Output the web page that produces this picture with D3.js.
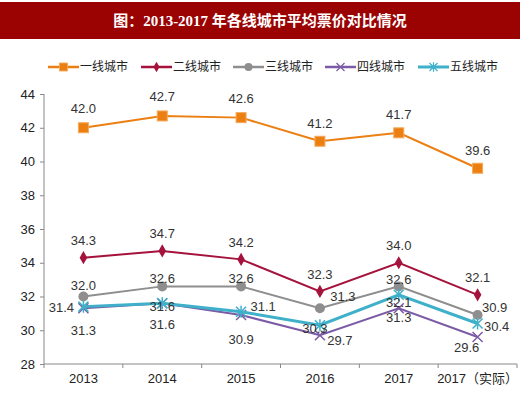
<!DOCTYPE html>
<html lang="zh">
<head>
<meta charset="utf-8">
<title>各线城市平均票价</title>
<script src="https://cdn.jsdelivr.net/npm/d3@7"></script>
<style>
  body { margin: 0; background: #fff; }
  text { font-family: "Liberation Sans", Arial, "Noto Sans CJK SC", sans-serif; }
</style>
</head>
<body>
<script>
// data
var years = ["2013", "2014", "2015", "2016", "2017", "2017（实际）"];
var seriesNames = ["一线城市", "二线城市", "三线城市", "四线城市", "五线城市"];
var tier1 = [42.0, 42.7, 42.6, 41.2, 41.7, 39.6];
var tier2 = [34.3, 34.7, 34.2, 32.3, 34.0, 32.1];
var tier3 = [32.0, 32.6, 32.6, 31.3, 32.6, 30.9];
var tier4 = [31.3, 31.6, 30.9, 29.7, 31.3, 29.6];
var tier5 = [31.4, 31.6, 31.1, 30.3, 32.1, 30.4];
var yTicks = [28, 30, 32, 34, 36, 38, 40, 42, 44];

var colors = ["#EC7F12", "#A5123B", "#8E8E8E", "#7B5BA6", "#3FB0CA"];
var markers = ["square", "diamond", "circle", "cross", "star"];

// label offsets from each point [dx, dy] (centre of text)
var labelOff = [
  [[0,-19],[0,-19],[0,-19],[0,-18],[0,-18],[0,-18]],
  [[0,-17],[0,-17],[0,-17],[0,-17],[0,-17],[0,-17]],
  [[0,-11],[0,-8],[0,-8],[23,-12],[0,-7],[17,-8]],
  [[0,22],[0,21],[0,24],[20,5],[0,9],[-11,10]],
  [[-22,1],[0,3],[22,-5],[-5,3],[0,8],[19,3]]
];

var w = 520, h = 397;
var svg = d3.select("body").append("svg").attr("width", w).attr("height", h);

// title banner
svg.append("rect").attr("x", 0).attr("y", 2).attr("width", w).attr("height", 37).attr("fill", "#9B0303");
svg.append("text").attr("x", w / 2).attr("y", 26).attr("text-anchor", "middle")
  .attr("fill", "#fff").attr("font-size", 15).attr("font-weight", "bold")
  .style("font-family", "'Liberation Serif', 'Noto Sans CJK SC', serif")
  .text("图：2013-2017 年各线城市平均票价对比情况");

var x = d3.scaleBand().domain(years).range([44, 517]);
var y = d3.scaleLinear().domain([28, 44]).range([364, 94]);

// axes
var xAxis = d3.axisBottom(x).tickSize(0).tickPadding(10);
var gx = svg.append("g").attr("transform", "translate(0,364)").call(xAxis);
gx.select(".domain").attr("stroke", "#888").attr("d", "M44,0H517");
gx.selectAll("text").attr("font-size", 13).attr("fill", "#222")
  .style("font-family", "'Liberation Sans', Arial, 'Noto Sans CJK SC', sans-serif");
var bounds = years.map(function(d) { return x(d); }).concat([x.range()[1]]);
gx.selectAll(".btick").data(bounds).enter().append("line")
  .attr("x1", function(d) { return d; }).attr("x2", function(d) { return d; })
  .attr("y1", 0).attr("y2", 4).attr("stroke", "#888");

var yAxis = d3.axisLeft(y).tickValues(yTicks).tickSize(4).tickPadding(5);
var gy = svg.append("g").attr("transform", "translate(44,0)").call(yAxis);
gy.select(".domain").attr("stroke", "#888").attr("d", "M0,364V94");
gy.selectAll("line").attr("stroke", "#888");
gy.selectAll("text").attr("font-size", 13).attr("fill", "#222")
  .style("font-family", "'Liberation Sans', Arial, sans-serif");

var allSeries = [tier1, tier2, tier3, tier4, tier5];
var cx = function(i) { return x(years[i]) + x.bandwidth() / 2; };

var line = d3.line()
  .x(function(d, i) { return cx(i); })
  .y(function(d) { return y(d); });

function drawMarker(g, type, color) {
  if (type === "square") {
    g.append("rect").attr("x", -5).attr("y", -5).attr("width", 10).attr("height", 10)
      .attr("fill", color).attr("stroke", "#F6A85A").attr("stroke-width", 1);
  } else if (type === "diamond") {
    g.append("path").attr("d", d3.symbol(d3.symbolDiamond, 50)).attr("fill", color);
  } else if (type === "circle") {
    g.append("circle").attr("r", 5).attr("fill", color);
  } else if (type === "cross") {
    g.append("path").attr("d", "M-5,-5L5,5M-5,5L5,-5").attr("stroke", color).attr("stroke-width", 1.5);
  } else {
    g.append("path").attr("d", "M-5,-5L5,5M-5,5L5,-5M0,-6V6").attr("stroke", color).attr("stroke-width", 1.5);
  }
}

// draw from back to front so lower tiers sit on top like the reference
[2, 1, 0, 3, 4].forEach(function(s) {
  var data = allSeries[s];
  svg.append("path").datum(data).attr("d", line)
    .attr("fill", "none").attr("stroke", colors[s])
    .attr("stroke-width", s === 4 ? 3 : 2);
  data.forEach(function(v, i) {
    var g = svg.append("g").attr("transform", "translate(" + cx(i) + "," + y(v) + ")");
    drawMarker(g, markers[s], colors[s]);
  });
});

// value labels
allSeries.forEach(function(data, s) {
  data.forEach(function(v, i) {
    svg.append("text")
      .attr("x", cx(i) + labelOff[s][i][0])
      .attr("y", y(v) + labelOff[s][i][1])
      .attr("dy", "0.35em")
      .attr("text-anchor", "middle")
      .attr("font-size", 13).attr("fill", "#333")
      .text(v.toFixed(1));
  });
});

// legend
var legendX = [48, 141, 233, 325, 418];
seriesNames.forEach(function(name, s) {
  var g = svg.append("g").attr("transform", "translate(" + legendX[s] + ",67)");
  g.append("line").attr("x1", 0).attr("x2", 31).attr("stroke", colors[s]).attr("stroke-width", s === 4 ? 3 : 2.5);
  var m = g.append("g").attr("transform", "translate(15.5,0) scale(0.8)");
  drawMarker(m, markers[s], colors[s]);
  g.append("text").attr("x", 32).attr("y", 0).attr("dy", "0.35em")
    .attr("font-size", 12).attr("fill", "#222")
    .style("font-family", "'Noto Sans CJK SC', sans-serif")
    .text(name);
});
</script>
</body>
</html>
